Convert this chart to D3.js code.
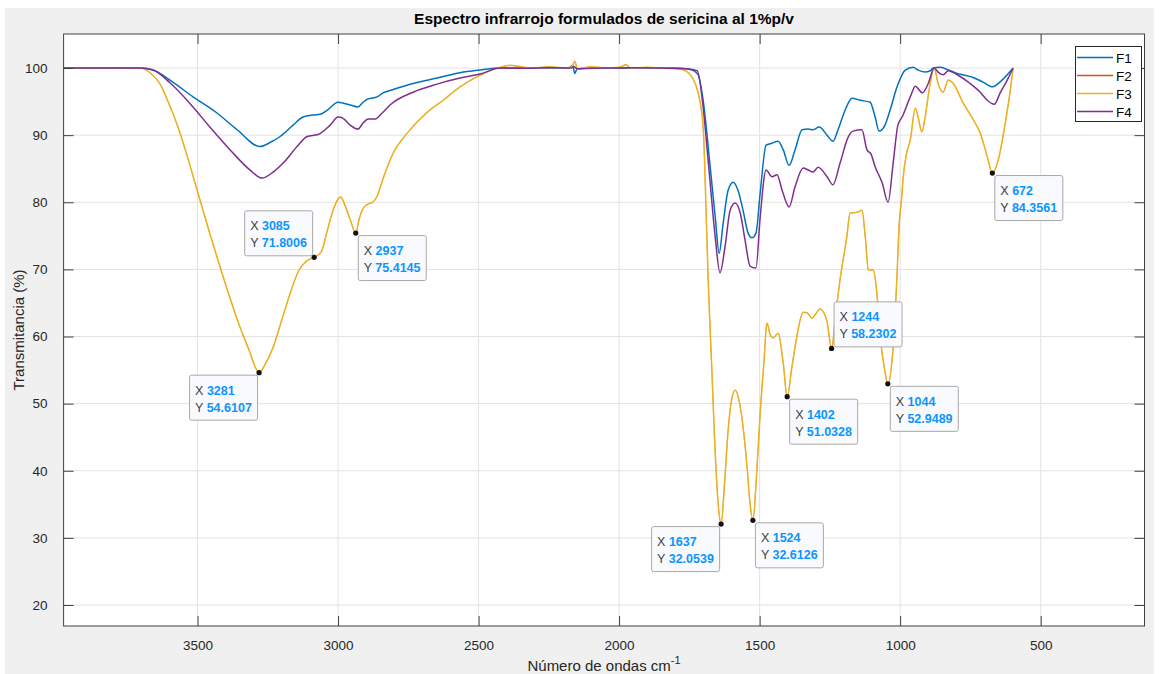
<!DOCTYPE html>
<html>
<head>
<meta charset="utf-8">
<script src="https://cdn.jsdelivr.net/npm/d3@7/dist/d3.min.js"></script>
<style>
body{margin:0;background:#fff;}
text{font-family:"Liberation Sans",Arial,Helvetica,sans-serif;}
</style>
</head>
<body>
<svg id="chart"></svg>
<script>
// series names + matlab default colours
var series = ["F1", "F2", "F3", "F4"]
var colors = ["#0072bd", "#d95319", "#edb120", "#7e2f8e"]

// [wavenumber, transmittance]
var f1 = [[3976,100],[3705,100],[3658,99.7],[3598,98.2],[3516,95.7],[3431,93.3],[3359,90.8],[3278,88.3],[3242,88.9],
  [3206,89.8],[3160,91.5],[3125,92.7],[3089,93.0],[3064,93.1],[3039,93.7],[3000,94.9],[2957,94.5],[2929,94.2],
  [2911,94.9],[2893,95.4],[2861,95.7],[2840,96.3],[2804,96.8],[2733,97.7],[2648,98.5],[2566,99.3],[2495,99.7],
  [2424,100],[2350,100],[2250,100.05],[2180,100],[2165,100.4],[2158,99.2],[2150,99.8],[2100,100],[2000,100],
  [1900,100.05],[1800,100],[1760,99.9],[1735,99.6],[1719,99.0],[1701,95.2],[1676,85.3],[1658,77.8],[1644,72.4],
  [1630,76.8],[1612,81.8],[1594,83.0],[1577,81.8],[1559,78.8],[1541,75.4],[1527,74.7],[1513,75.4],[1498,81.4],
  [1477,88.5],[1456,88.8],[1434,89.1],[1416,87.8],[1395,85.5],[1374,87.8],[1349,90.8],[1327,90.9],[1310,90.8],
  [1288,91.2],[1260,90.0],[1239,89.1],[1221,90.8],[1196,93.7],[1171,95.5],[1143,95.2],[1107,94.9],[1089,92.7],
  [1075,90.6],[1054,91.5],[1036,93.7],[1011,97.2],[982,99.7],[954,100.1],[936,99.7],[911,99.4],[893,99.6],
  [883,100],[858,100.1],[833,99.8],[797,99.2],[740,98.6],[705,97.9],[670,97.2],[651,97.7],[598,100]]

var f3 = [[3976,100],[3800,100.05],[3705,100],[3669,99.3],[3633,97.6],[3598,94.3],[3562,90.3],[3527,85.5],
  [3491,80.3],[3456,75.3],[3420,70.4],[3385,65.8],[3349,61.4],[3315,57.8],[3295,55.5],[3281,54.61],[3260,55.8],
  [3230,58.5],[3200,62.5],[3170,66.5],[3140,69.8],[3110,71.3],[3085,71.8],[3060,72.6],[3040,75.5],[3020,78.5],
  [3000,80.5],[2990,80.8],[2975,79.5],[2955,77.2],[2937,75.41],[2925,77.5],[2912,79.0],[2895,79.7],[2876,80.0],
  [2860,81.0],[2840,83.5],[2804,87.3],[2754,90.3],[2683,93.4],[2626,95.2],[2566,97.2],[2495,98.9],[2424,100.1],
  [2388,100.4],[2350,100.2],[2300,100.0],[2250,100.2],[2200,100.0],[2170,100.1],[2158,101.0],[2148,99.9],
  [2100,100.2],[2050,100.0],[2000,100.1],[1975,100.5],[1960,100.0],[1900,100.1],[1850,100.0],[1790,99.9],
  [1760,99.5],[1737,98.4],[1720,96.5],[1712,95.0],[1700,90.5],[1690,78],[1683,68.4],[1670,55],[1660,44.5],
  [1650,36.5],[1637,32.05],[1625,38],[1612,46.1],[1600,50.5],[1587,52.0],[1569,49.5],[1546,41.2],[1535,35.5],
  [1524,32.61],[1510,40],[1498,48.6],[1485,56],[1474,62.0],[1462,60.2],[1452,59.8],[1434,60.5],[1416,56.0],
  [1402,51.03],[1385,55.5],[1368,59.9],[1345,63.6],[1330,63.5],[1314,62.7],[1300,63.4],[1285,64.1],[1261,62.4],
  [1244,58.23],[1230,63],[1214,68.4],[1190,74.8],[1178,78.4],[1154,78.5],[1136,78.8],[1124,74.8],[1113,69.9],
  [1096,69.9],[1083,66.5],[1071,60],[1055,55],[1044,52.95],[1025,58.4],[1012,68.4],[1003,77],[996,80],
  [989,83.8],[976,87.5],[964,89.3],[946,94.0],[936,92.7],[923,90.5],[911,92.7],[897,96.7],[879,100],[865,97.7],
  [847,96.4],[829,98.2],[811,97.7],[776,94.8],[740,92.3],[715,90.3],[690,86.8],[672,84.36],[651,86.3],
  [626,91.8],[608,96.7],[598,100]]

// F2 lies exactly under F3 in the picture
var f2 = f3

var f4 = [[3976,100],[3705,100],[3658,99.7],[3598,97.8],[3516,94.2],[3456,91.2],[3384,87.8],[3313,84.8],[3270,83.6],
  [3231,84.5],[3196,85.8],[3146,88.3],[3110,89.8],[3071,90.1],[3028,91.5],[3000,92.7],[2982,92.5],[2957,91.5],
  [2929,90.9],[2911,91.8],[2893,92.4],[2868,92.4],[2843,93.3],[2815,94.5],[2733,96.4],[2648,97.6],[2566,98.5],
  [2495,99.1],[2424,100],[2350,99.95],[2250,100.05],[2170,100],[2160,100.2],[2150,99.9],[2050,100],[1950,100.05],
  [1850,100],[1760,99.9],[1722,99.6],[1701,94.2],[1687,88],[1676,82.9],[1658,74.8],[1641,69.5],[1623,73.4],
  [1605,78.8],[1587,79.9],[1569,78.4],[1552,74.4],[1534,70.5],[1513,70.2],[1498,77.8],[1477,84.8],[1456,83.8],
  [1438,84.1],[1420,81.8],[1395,79.3],[1374,82.3],[1345,85.1],[1327,84.8],[1310,84.5],[1292,85.2],[1260,83.8],
  [1239,82.6],[1214,85.8],[1185,89.7],[1168,90.6],[1136,90.8],[1118,87.8],[1104,87.2],[1089,85.3],[1064,82.9],
  [1043,80.0],[1025,85.8],[1008,91.5],[993,92.7],[964,95.7],[946,97.3],[921,96.3],[900,97.7],[879,100],
  [865,99.4],[847,99.0],[829,99.6],[797,99.0],[751,97.7],[715,96.4],[690,95.2],[665,94.6],[644,96.3],
  [619,98.2],[598,100]]

var allSeries = [f1, f2, f3, f4]

// data tips on F3
var tipX = [3281, 3085, 2937, 1637, 1524, 1402, 1244, 1044, 672]
var tipY = ["54.6107", "71.8006", "75.4145", "32.0539", "32.6126", "51.0328", "58.2302", "52.9489", "84.3561"]
// which corner the box sits in (b/t = below/above, l/r = left/right)
var tipSide = ["bl", "tl", "br", "bl", "br", "br", "tr", "br", "br"]

var xTicks = [3500, 3000, 2500, 2000, 1500, 1000, 500]
var yTicks = [20, 30, 40, 50, 60, 70, 80, 90, 100]

var width = 1162
var height = 674
var plot = {left: 63.6, right: 1144.5, top: 34, bottom: 626}

var svg = d3.select("#chart")
    .attr("width", width)
    .attr("height", height)

// figure background
svg.append("rect").attr("x", 5).attr("y", 8).attr("width", 1149).attr("height", height - 8).attr("fill", "#f0f0f0")
svg.append("rect")
    .attr("x", plot.left).attr("y", plot.top)
    .attr("width", plot.right - plot.left).attr("height", plot.bottom - plot.top)
    .attr("fill", "#fff")

var xScale = d3.scaleLinear().domain([3976.5, 130.6]).range([plot.left, plot.right])
var yScale = d3.scaleLinear().domain([16.87, 105.07]).range([plot.bottom, plot.top])

// grid
svg.append("g").selectAll("line").data(xTicks).enter().append("line")
    .attr("x1", function(d){return xScale(d)}).attr("x2", function(d){return xScale(d)})
    .attr("y1", plot.top).attr("y2", plot.bottom)
    .attr("stroke", "#e2e2e2")
svg.append("g").selectAll("line").data(yTicks).enter().append("line")
    .attr("y1", function(d){return yScale(d)}).attr("y2", function(d){return yScale(d)})
    .attr("x1", plot.left).attr("x2", plot.right)
    .attr("stroke", "#e2e2e2")

// curves
var line = d3.line()
    .x(function(d){return xScale(d[0])})
    .y(function(d){return yScale(d[1])})
    .curve(d3.curveMonotoneX)

svg.append("g").selectAll("path").data(allSeries).enter().append("path")
    .attr("d", line)
    .attr("fill", "none")
    .attr("stroke", function(d, i){return colors[i]})
    // F2 kept thin so F3 fully hides it
    .attr("stroke-width", function(d, i){return i == 1 ? 0.5 : 1.5})
    .attr("stroke-linejoin", "round")

// axes, ticks pointing in like matlab
var axisColor = "#404040"
var xAxis = d3.axisBottom(xScale).tickValues(xTicks).tickSize(-10).tickPadding(14).tickFormat(d3.format("d"))
var yAxis = d3.axisLeft(yScale).tickValues(yTicks).tickSize(-10).tickPadding(16)

var gx = svg.append("g").attr("transform", "translate(0," + plot.bottom + ")").call(xAxis)
var gy = svg.append("g").attr("transform", "translate(" + plot.left + ",0)").call(yAxis)
svg.append("g").attr("transform", "translate(0," + plot.top + ")")
    .call(d3.axisTop(xScale).tickValues(xTicks).tickSize(-10).tickFormat(""))
svg.append("g").attr("transform", "translate(" + plot.right + ",0)")
    .call(d3.axisRight(yScale).tickValues(yTicks).tickSize(-10).tickFormat(""))

svg.selectAll(".domain").remove()
svg.selectAll(".tick line").attr("stroke", axisColor)
svg.selectAll(".tick text").attr("fill", "#262626").style("font-size", "13.5px")
    .style("font-family", "'Liberation Sans', Arial, sans-serif")

svg.append("rect")
    .attr("x", plot.left).attr("y", plot.top)
    .attr("width", plot.right - plot.left).attr("height", plot.bottom - plot.top)
    .attr("fill", "none").attr("stroke", axisColor)

// data tips
var tips = svg.append("g")
tipX.forEach(function(wx, i){
    var px = xScale(wx)
    var py = yScale(+tipY[i])
    var w = 68, h = 45
    var side = tipSide[i]
    var x0 = side[1] == "l" ? px - 2 - w : px + 2
    var y0 = side[0] == "t" ? py - 2 - h : py + 2
    var g = tips.append("g")
    g.append("rect")
        .attr("x", x0 + 0.5).attr("y", y0 + 0.5)
        .attr("width", w).attr("height", h).attr("rx", 2)
        .attr("fill", "#f9fafe").attr("stroke", "#a8a8a8")
    var t1 = g.append("text").attr("x", x0 + 6).attr("y", y0 + 20).style("font-size", "12.5px")
    t1.append("tspan").attr("fill", "#404040").text("X ")
    t1.append("tspan").attr("fill", "#0b95ff").attr("font-weight", "bold").text(wx)
    var t2 = g.append("text").attr("x", x0 + 6).attr("y", y0 + 37).style("font-size", "12.5px")
    t2.append("tspan").attr("fill", "#404040").text("Y ")
    t2.append("tspan").attr("fill", "#0b95ff").attr("font-weight", "bold").text(tipY[i])
    g.append("circle").attr("cx", px).attr("cy", py).attr("r", 2.6).attr("fill", "#111")
})

// legend
var legend = svg.append("g")
legend.append("rect")
    .attr("x", 1075.5).attr("y", 46.5).attr("width", 66).attr("height", 75)
    .attr("fill", "#fff").attr("stroke", "#262626")
series.forEach(function(name, i){
    var ly = 57.5 + i * 18
    legend.append("line").attr("x1", 1077).attr("x2", 1113).attr("y1", ly).attr("y2", ly)
        .attr("stroke", colors[i]).attr("stroke-width", 1.5)
    legend.append("text").attr("x", 1116).attr("y", ly + 5).attr("fill", "#000")
        .style("font-size", "13.5px").text(name)
})

// title and labels
svg.append("text")
    .attr("x", (plot.left + plot.right) / 2).attr("y", 24)
    .attr("text-anchor", "middle").attr("font-weight", "bold")
    .attr("fill", "#000").style("font-size", "15.5px")
    .text("Espectro infrarrojo formulados de sericina al 1%p/v")

var xl = svg.append("text")
    .attr("x", (plot.left + plot.right) / 2).attr("y", 671)
    .attr("text-anchor", "middle").attr("fill", "#262626").style("font-size", "15px")
xl.append("tspan").text("Número de ondas cm")
xl.append("tspan").attr("dy", -7).style("font-size", "11px").text("-1")

svg.append("text")
    .attr("transform", "translate(24," + (plot.top + plot.bottom) / 2 + ") rotate(-90)")
    .attr("text-anchor", "middle").attr("fill", "#262626").style("font-size", "15px")
    .text("Transmitancia (%)")
</script>
</body>
</html>
